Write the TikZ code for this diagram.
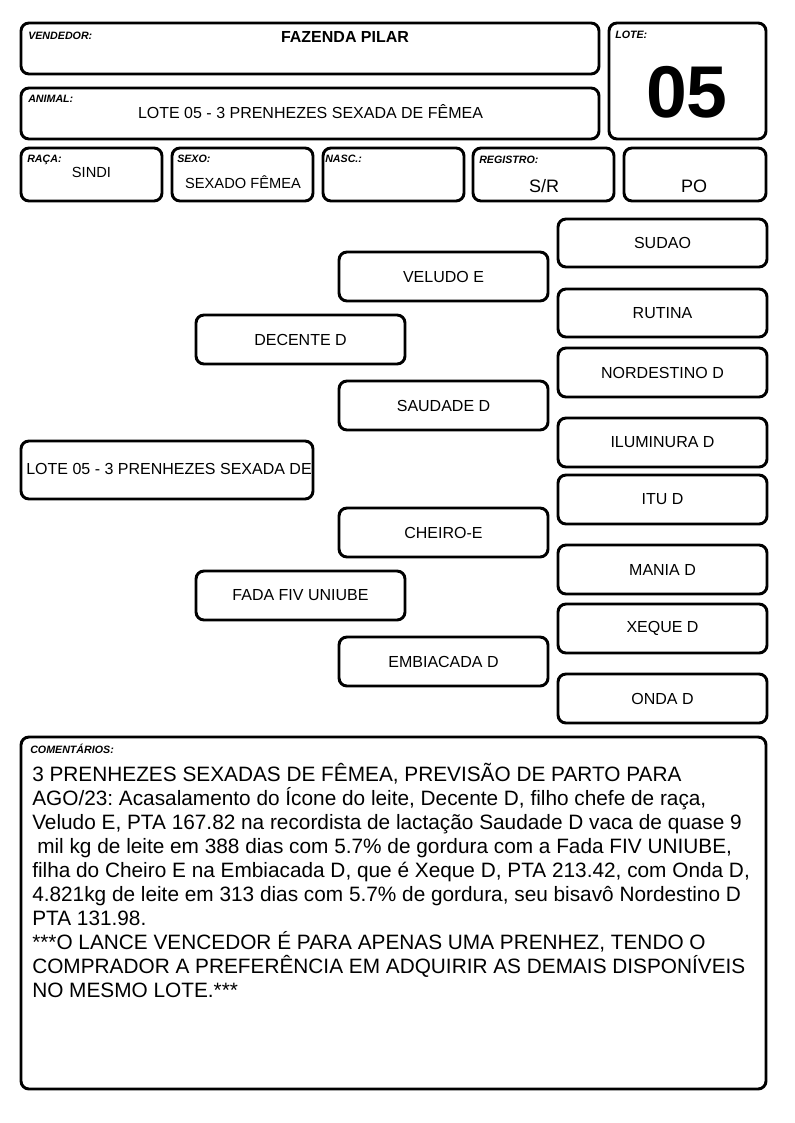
\documentclass[tikz,border=0pt]{standalone}
\usepackage{fontspec}
\setmainfont{Liberation Sans}
\usetikzlibrary{fit}
\frenchspacing
\begin{document}
\begin{tikzpicture}[x=0.75pt,y=-0.75pt,
  pbox/.style={draw, line width=2.2pt, rounded corners=6pt, inner sep=0pt},
  ptext/.style={anchor=center, inner sep=0pt, font=\fontsize{12}{14}\selectfont},
  lbl/.style={anchor=base west, inner sep=0pt, font=\fontsize{8}{9}\selectfont\bfseries\itshape},
  val/.style={anchor=base, inner sep=0pt, font=\fontsize{12}{14}\selectfont},
  ctext/.style={anchor=base west, inner sep=0pt, font=\fontsize{15.6}{18}\selectfont}]
\fill[white] (0,0) rectangle (794,1123);
\useasboundingbox (0,0) rectangle (794,1123);

% header boxes
\node[pbox, fit={(21,23) (599,74)}] (vend) {};
\node[pbox, fit={(21,88) (599,139)}] (animal) {};
\node[pbox, fit={(609,23) (766,139)}] (lote) {};
\node[pbox, fit={(21,148) (162,201)}] (raca) {};
\node[pbox, fit={(172,148) (313,201)}] (sexo) {};
\node[pbox, fit={(323,148) (464,201)}] (nasc) {};
\node[pbox, fit={(473,148) (614,201)}] (reg) {};
\node[pbox, fit={(624,148) (766,201)}] (po) {};

\node[lbl] (vendl) at (28,39.5) {VENDEDOR:};
\node[val, font=\fontsize{12}{14}\selectfont\bfseries] (vendv) at (345,43) {FAZENDA PILAR};
\node[lbl] (animall) at (28,103) {ANIMAL:};
\node[val] (animalv) at (310.5,119) {LOTE 05 - 3 PRENHEZES SEXADA DE FÊMEA};
\node[lbl] (lotel) at (615,39) {LOTE:};
\node[val, font=\fontsize{55}{60}\selectfont\bfseries] (lotev) at (687,118) {05};
\node[lbl] (racal) at (27,163) {RAÇA:};
\node[val, font=\fontsize{11}{13}\selectfont] (racav) at (91.5,178) {SINDI};
\node[lbl] (sexol) at (177,163) {SEXO:};
\node[val, font=\fontsize{11}{13}\selectfont] (sexov) at (243,189) {SEXADO FÊMEA};
\node[lbl] (nascl) at (325,163) {NASC.:};
\node[lbl] (regl) at (479,164) {REGISTRO:};
\node[val, font=\fontsize{13.5}{16}\selectfont] (regv) at (544,193) {S/R};
\node[val, font=\fontsize{13.5}{16}\selectfont] (pov) at (694,193) {PO};

% pedigree boxes
\node[pbox, fit={(21,441) (313,499)}] (animal0) {};
\node[pbox, fit={(196,315) (405,364)}] (decente) {};
\node[pbox, fit={(196,571) (405,620)}] (fada) {};
\node[pbox, fit={(339,252) (548,301)}] (veludo) {};
\node[pbox, fit={(339,381) (548,430)}] (saudade) {};
\node[pbox, fit={(339,508) (548,557)}] (cheiro) {};
\node[pbox, fit={(339,637) (548,686)}] (embiacada) {};
\node[pbox, fit={(558,219) (767,267)}] (sudao) {};
\node[pbox, fit={(558,289) (767,337)}] (rutina) {};
\node[pbox, fit={(558,348) (767,397)}] (nordestino) {};
\node[pbox, fit={(558,418) (767,467)}] (iluminura) {};
\node[pbox, fit={(558,475) (767,524)}] (itu) {};
\node[pbox, fit={(558,545) (767,594)}] (mania) {};
\node[pbox, fit={(558,604) (767,653)}] (xeque) {};
\node[pbox, fit={(558,674) (767,723)}] (onda) {};

% pedigree texts
\node[ptext] (animal0t) at ([xshift=1.5pt,yshift=0.5pt]animal0.center) {LOTE 05 - 3 PRENHEZES SEXADA DE};
\node[ptext] (decentet) at (decente.center) {DECENTE D};
\node[ptext] (fadat) at (fada.center) {FADA FIV UNIUBE};
\node[ptext] (veludot) at (veludo.center) {VELUDO E};
\node[ptext] (saudadet) at (saudade.center) {SAUDADE D};
\node[ptext] (cheirot) at (cheiro.center) {CHEIRO-E};
\node[ptext] (embiacadat) at (embiacada.center) {EMBIACADA D};
\node[ptext] (sudaot) at (sudao.center) {SUDAO};
\node[ptext] (rutinat) at (rutina.center) {RUTINA};
\node[ptext] (nordestinot) at (nordestino.center) {NORDESTINO D};
\node[ptext] (iluminurat) at (iluminura.center) {ILUMINURA D};
\node[ptext] (itut) at (itu.center) {ITU D};
\node[ptext] (maniat) at (mania.center) {MANIA D};
\node[ptext] (xequet) at (xeque.center) {XEQUE D};
\node[ptext] (ondat) at (onda.center) {ONDA D};

% comments
\node[pbox, fit={(21,737) (766,1089)}] (coment) {};
\node[lbl] (comentl) at (30,753) {COMENTÁRIOS:};
\node[ctext] (c1) at (32,781) {3 PRENHEZES SEXADAS DE FÊMEA, PREVISÃO DE PARTO PARA};
\node[ctext] (c2) at (32,805) {AGO/23: Acasalamento do Ícone do leite, Decente D, filho chefe de raça,};
\node[ctext] (c3) at (32,829) {Veludo E, PTA 167.82 na recordista de lactação Saudade D vaca de quase 9};
\node[ctext] (c4) at (37,853) {mil kg de leite em 388 dias com 5.7\% de gordura com a Fada FIV UNIUBE,};
\node[ctext] (c5) at (32,877) {filha do Cheiro E na Embiacada D, que é Xeque D, PTA 213.42, com Onda D,};
\node[ctext] (c6) at (32,901) {4.821kg de leite em 313 dias com 5.7\% de gordura, seu bisavô Nordestino D};
\node[ctext] (c7) at (32,925) {PTA 131.98.};
\node[ctext] (c8) at (32,949) {***O LANCE VENCEDOR É PARA APENAS UMA PRENHEZ, TENDO O};
\node[ctext] (c9) at (32,973) {COMPRADOR A PREFERÊNCIA EM ADQUIRIR AS DEMAIS DISPONÍVEIS};
\node[ctext] (c10) at (32,997) {NO MESMO LOTE.***};
\end{tikzpicture}
\end{document}
